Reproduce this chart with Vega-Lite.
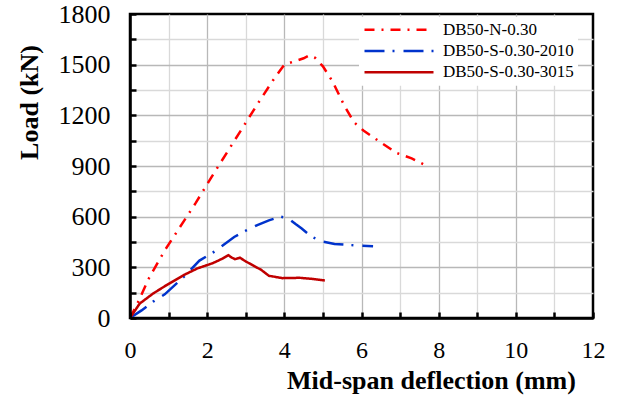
{
  "$schema": "https://vega.github.io/schema/vega-lite/v6.json",
  "width": 463,
  "height": 304,
  "autosize": {"type": "none"},
  "padding": {"left": 130, "top": 14, "right": 31, "bottom": 83},
  "background": "white",
  "config": {
    "view": {"stroke": "black", "strokeWidth": 2.5},
    "font": "Liberation Serif"
  },
  "data": {
    "values": [
      {"s": "DB50-N-0.30", "d": 0, "load": 0},
      {"s": "DB50-N-0.30", "d": 0.2, "load": 90},
      {"s": "DB50-N-0.30", "d": 0.5, "load": 240},
      {"s": "DB50-N-0.30", "d": 0.9, "load": 400},
      {"s": "DB50-N-0.30", "d": 1.3, "load": 540},
      {"s": "DB50-N-0.30", "d": 1.7, "load": 680},
      {"s": "DB50-N-0.30", "d": 2.1, "load": 830},
      {"s": "DB50-N-0.30", "d": 2.5, "load": 975},
      {"s": "DB50-N-0.30", "d": 2.9, "load": 1120},
      {"s": "DB50-N-0.30", "d": 3.3, "load": 1265},
      {"s": "DB50-N-0.30", "d": 3.7, "load": 1405},
      {"s": "DB50-N-0.30", "d": 4.0, "load": 1500},
      {"s": "DB50-N-0.30", "d": 4.2, "load": 1515},
      {"s": "DB50-N-0.30", "d": 4.5, "load": 1538},
      {"s": "DB50-N-0.30", "d": 4.65, "load": 1555},
      {"s": "DB50-N-0.30", "d": 4.8, "load": 1540},
      {"s": "DB50-N-0.30", "d": 5.0, "load": 1490},
      {"s": "DB50-N-0.30", "d": 5.25, "load": 1400},
      {"s": "DB50-N-0.30", "d": 5.55, "load": 1260},
      {"s": "DB50-N-0.30", "d": 5.8, "load": 1160},
      {"s": "DB50-N-0.30", "d": 6.05, "load": 1110},
      {"s": "DB50-N-0.30", "d": 6.4, "load": 1055},
      {"s": "DB50-N-0.30", "d": 6.9, "load": 978},
      {"s": "DB50-N-0.30", "d": 7.3, "load": 945},
      {"s": "DB50-N-0.30", "d": 7.7, "load": 900},
      {"s": "DB50-S-0.30-2010", "d": 0, "load": 0},
      {"s": "DB50-S-0.30-2010", "d": 0.3, "load": 45},
      {"s": "DB50-S-0.30-2010", "d": 0.6, "load": 97},
      {"s": "DB50-S-0.30-2010", "d": 0.9, "load": 140},
      {"s": "DB50-S-0.30-2010", "d": 1.4, "load": 245},
      {"s": "DB50-S-0.30-2010", "d": 1.8, "load": 340},
      {"s": "DB50-S-0.30-2010", "d": 2.2, "load": 395},
      {"s": "DB50-S-0.30-2010", "d": 2.7, "load": 480},
      {"s": "DB50-S-0.30-2010", "d": 3.0, "load": 517},
      {"s": "DB50-S-0.30-2010", "d": 3.3, "load": 550},
      {"s": "DB50-S-0.30-2010", "d": 3.6, "load": 578},
      {"s": "DB50-S-0.30-2010", "d": 3.9, "load": 600},
      {"s": "DB50-S-0.30-2010", "d": 4.1, "load": 590},
      {"s": "DB50-S-0.30-2010", "d": 4.3, "load": 555},
      {"s": "DB50-S-0.30-2010", "d": 4.45, "load": 530},
      {"s": "DB50-S-0.30-2010", "d": 4.7, "load": 482},
      {"s": "DB50-S-0.30-2010", "d": 5.0, "load": 452},
      {"s": "DB50-S-0.30-2010", "d": 5.3, "load": 438},
      {"s": "DB50-S-0.30-2010", "d": 5.7, "load": 432},
      {"s": "DB50-S-0.30-2010", "d": 6.0, "load": 428},
      {"s": "DB50-S-0.30-2010", "d": 6.3, "load": 425},
      {"s": "DB50-S-0.30-3015", "d": 0, "load": 0},
      {"s": "DB50-S-0.30-3015", "d": 0.25, "load": 85},
      {"s": "DB50-S-0.30-3015", "d": 0.6, "load": 145},
      {"s": "DB50-S-0.30-3015", "d": 0.95, "load": 195},
      {"s": "DB50-S-0.30-3015", "d": 1.4, "load": 255},
      {"s": "DB50-S-0.30-3015", "d": 1.75, "load": 294},
      {"s": "DB50-S-0.30-3015", "d": 2.15, "load": 325},
      {"s": "DB50-S-0.30-3015", "d": 2.4, "load": 352},
      {"s": "DB50-S-0.30-3015", "d": 2.55, "load": 372},
      {"s": "DB50-S-0.30-3015", "d": 2.62, "load": 360},
      {"s": "DB50-S-0.30-3015", "d": 2.72, "load": 348},
      {"s": "DB50-S-0.30-3015", "d": 2.85, "load": 357},
      {"s": "DB50-S-0.30-3015", "d": 3.0, "load": 335},
      {"s": "DB50-S-0.30-3015", "d": 3.2, "load": 310},
      {"s": "DB50-S-0.30-3015", "d": 3.4, "load": 285},
      {"s": "DB50-S-0.30-3015", "d": 3.6, "load": 250},
      {"s": "DB50-S-0.30-3015", "d": 3.95, "load": 236},
      {"s": "DB50-S-0.30-3015", "d": 4.4, "load": 238},
      {"s": "DB50-S-0.30-3015", "d": 4.7, "load": 232},
      {"s": "DB50-S-0.30-3015", "d": 5.05, "load": 222}
    ]
  },
  "resolve": {"axis": {"x": "independent", "y": "independent"}},
  "layer": [
    {
      "mark": {"type": "line", "strokeOpacity": 0},
      "encoding": {
        "x": {
          "field": "d",
          "type": "quantitative",
          "scale": {"domain": [0, 12], "nice": false, "zero": true},
          "axis": {
            "orient": "bottom",
            "zindex": 0,
            "values": [1, 2, 3, 4, 5, 6, 7, 8, 9, 10, 11],
            "labels": false,
            "domain": false,
            "ticks": false,
            "grid": true,
            "gridColor": {"condition": {"test": "datum.value % 2 == 0", "value": "#B8B8B8"}, "value": "#D9D9D9"},
            "gridWidth": 1.3,
            "title": null
          }
        },
        "y": {
          "field": "load",
          "type": "quantitative",
          "scale": {"domain": [0, 1800], "nice": false},
          "axis": {
            "orient": "left",
            "zindex": 0,
            "values": [150, 300, 450, 600, 750, 900, 1050, 1200, 1350, 1500, 1650],
            "labels": false,
            "domain": false,
            "ticks": false,
            "grid": true,
            "gridColor": {"condition": {"test": "datum.value % 300 == 0", "value": "#B8B8B8"}, "value": "#D9D9D9"},
            "gridWidth": 1.3,
            "title": null
          }
        },
        "detail": {"field": "s"}
      }
    },
    {
      "mark": {"type": "line", "strokeWidth": 2.5},
      "encoding": {
        "x": {
          "field": "d",
          "type": "quantitative",
          "scale": {"domain": [0, 12], "nice": false, "zero": true},
          "axis": {
            "orient": "bottom",
            "zindex": 1,
            "values": [0, 1, 2, 3, 4, 5, 6, 7, 8, 9, 10, 11, 12],
            "labelExpr": "datum.value % 2 == 0 ? datum.label : ''",
            "labelFontSize": 24,
            "labelColor": "black",
            "labelPadding": 26,
            "labelFlush": false,
            "domainColor": "black",
            "domainWidth": 2.5,
            "tickColor": "black",
            "tickWidth": 2.5,
            "tickSize": -6,
            "grid": false,
            "title": "Mid-span deflection (mm)",
            "titleFontSize": 26,
            "titleFontWeight": "bold",
            "titleColor": "black",
            "titleX": 301,
            "titleY": 70,
            "titleAlign": "center",
            "titleBaseline": "alphabetic"
          }
        },
        "y": {
          "field": "load",
          "type": "quantitative",
          "scale": {"domain": [0, 1800], "nice": false},
          "axis": {
            "orient": "left",
            "zindex": 1,
            "values": [0, 150, 300, 450, 600, 750, 900, 1050, 1200, 1350, 1500, 1650, 1800],
            "labelExpr": "datum.value % 300 == 0 ? datum.label : ''",
            "format": "d",
            "labelFontSize": 26,
            "labelColor": "black",
            "labelPadding": 26,
            "labelFlush": false,
            "domainColor": "black",
            "domainWidth": 2.5,
            "tickColor": "black",
            "tickWidth": 2.5,
            "tickSize": -6,
            "grid": false,
            "title": "Load (kN)",
            "titleFontSize": 26,
            "titleFontWeight": "bold",
            "titleColor": "black",
            "titleAngle": -90,
            "titleX": -93,
            "titleY": 88,
            "titleAlign": "center",
            "titleBaseline": "alphabetic"
          }
        },
        "color": {
          "field": "s",
          "type": "nominal",
          "scale": {
            "domain": ["DB50-N-0.30", "DB50-S-0.30-2010", "DB50-S-0.30-3015"],
            "range": ["#FF0000", "#0033CC", "#C00000"]
          },
          "legend": {
            "title": null,
            "orient": "none",
            "legendX": 229,
            "legendY": 2.7,
            "fillColor": "white",
            "padding": 4,
            "symbolType": "stroke",
            "symbolSize": 4761,
            "symbolStrokeWidth": 2.5,
            "clipHeight": 18,
            "labelFontSize": 17,
            "labelColor": "black",
            "labelOffset": 8,
            "rowPadding": 3.3
          }
        },
        "strokeDash": {
          "field": "s",
          "type": "nominal",
          "scale": {
            "domain": ["DB50-N-0.30", "DB50-S-0.30-2010", "DB50-S-0.30-3015"],
            "range": [[10, 7, 2, 7], [20, 8, 2, 9], [1, 0]]
          },
          "legend": {
            "title": null,
            "orient": "none",
            "legendX": 229,
            "legendY": 2.7,
            "fillColor": "white",
            "padding": 4,
            "symbolType": "stroke",
            "symbolSize": 4761,
            "symbolStrokeWidth": 2.5,
            "clipHeight": 18,
            "labelFontSize": 17,
            "labelColor": "black",
            "labelOffset": 8,
            "rowPadding": 3.3
          }
        }
      }
    }
  ]
}
